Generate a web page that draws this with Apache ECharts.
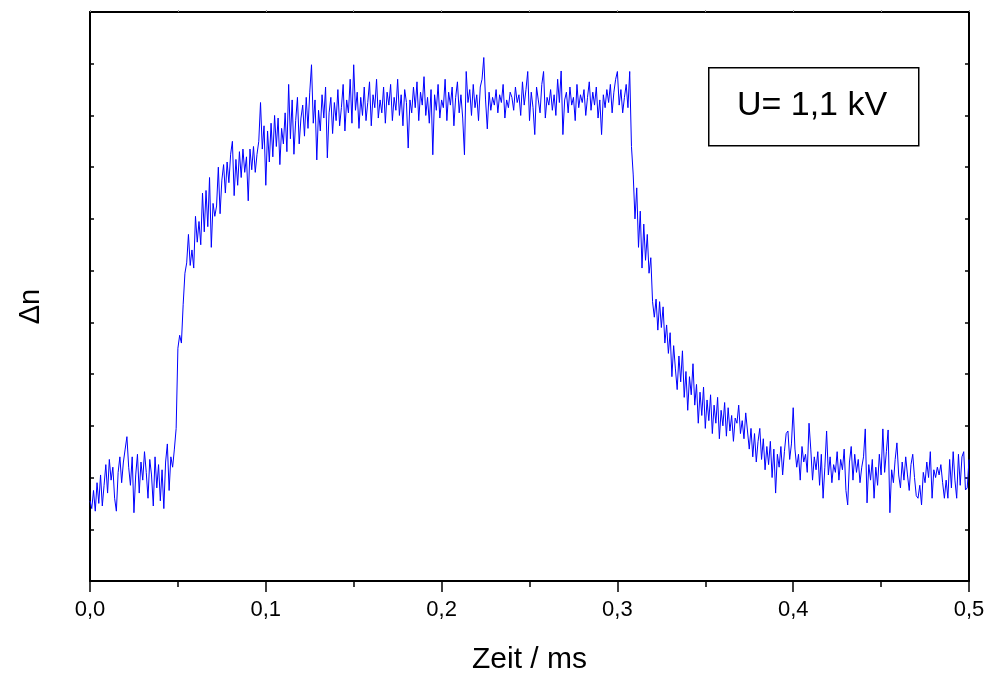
<!DOCTYPE html>
<html>
<head>
<meta charset="utf-8">
<script src="https://cdn.jsdelivr.net/npm/echarts@6/dist/echarts.min.js"></script>
<style>
html,body{margin:0;padding:0;background:#fff;}
#chart{width:988px;height:675px;}
</style>
</head>
<body>
<div id="chart"></div>
<script>
// Sampling step of the trace (ms)
const timeStep = 0.001;

// Δn values (arbitrary units, axis 0..11)
const baseline = [
  1.55, 1.40, 1.75, 1.35, 1.90, 1.50, 2.05, 1.45, 1.85, 2.25,
  1.70, 2.35, 1.95, 2.20, 1.60, 1.35, 2.10, 2.40, 1.90, 2.30,
  2.55, 2.79, 2.20, 1.85, 2.40, 1.32, 2.05, 2.45, 1.70, 2.30,
  1.95, 2.50, 2.10, 1.60, 2.35, 2.05, 1.45, 2.40, 1.80, 2.25,
  1.55, 2.15, 1.40, 2.30, 2.65, 1.75, 2.40, 2.20, 2.55
];
const rise = [
  2.95, 4.50, 4.75, 4.60, 5.35, 5.95, 6.15, 6.70, 6.10, 6.40, 6.05, 7.05,
  6.55, 6.95, 6.50, 7.50, 6.75, 7.55, 6.85, 7.80, 6.45, 7.30,
  7.05, 7.25, 8.00, 7.10, 7.75, 8.05, 7.50, 8.10, 7.70, 8.25,
  8.50, 7.45, 8.15, 7.65, 8.30, 7.80, 8.35, 7.90, 8.20, 7.35,
  8.35, 7.95, 8.40, 7.90, 8.25, 8.50, 9.25, 8.35, 8.80, 7.65,
  8.70, 8.10, 8.85, 8.20, 9.00, 8.40, 8.95, 8.05, 8.75, 8.45,
  9.05, 8.30, 9.60, 8.55, 9.30, 8.25, 8.90, 9.35, 8.45, 8.95
];
const plateau = [
  9.20, 8.60, 9.35, 8.75, 9.45, 9.98, 8.85, 9.30, 8.14, 9.10,
  8.70, 9.40, 8.95, 9.55, 8.18, 9.05, 9.35, 8.65, 9.25, 8.90,
  9.50, 8.80, 9.15, 9.60, 8.70, 9.30, 9.05, 9.70, 8.85, 9.98,
  9.10, 9.45, 8.75, 9.35, 9.00, 9.55, 8.90, 9.25, 9.65, 8.80,
  9.40, 9.15, 9.70, 8.95, 9.30, 9.05, 9.55, 8.85, 9.45, 9.20,
  9.60, 8.90, 9.35, 9.10, 9.70, 9.00, 9.40, 8.80, 9.50, 9.25,
  8.37, 9.30, 9.05, 9.55, 9.15, 9.65, 8.90, 9.45, 9.20, 9.75,
  9.00, 9.35, 8.85, 9.50, 8.24, 9.40, 9.10, 9.60, 8.95, 9.30,
  9.15, 9.70, 8.90, 9.45, 9.20, 9.55, 8.80, 9.35, 9.65, 9.05,
  9.40, 8.95, 8.24, 9.85, 9.25, 9.50, 9.00, 9.60, 9.15, 9.40,
  8.90, 9.55, 9.70, 10.12, 9.30, 8.74, 9.45, 9.10, 9.35, 9.20,
  9.50, 9.05, 9.40, 9.25, 9.60, 8.95, 9.30, 9.15, 9.45, 9.35,
  9.10, 9.55, 9.25, 9.40, 9.00, 9.65, 9.20, 9.50, 9.85, 8.90,
  9.45, 9.15, 8.63, 9.55, 9.30, 9.05, 9.60, 9.85, 8.95, 9.35,
  9.20, 9.50, 9.10, 9.40, 9.00, 9.70, 9.25, 9.86, 8.63, 9.30,
  9.45, 9.05, 9.55, 9.20, 9.35, 8.90, 9.60, 9.15, 9.40, 9.25,
  9.50, 9.00, 9.35, 9.65, 9.10, 9.45, 9.20, 9.55, 8.95, 9.30,
  8.63, 9.40, 9.15, 9.50, 9.25, 9.60, 9.05, 9.45, 9.70, 9.85,
  9.20, 9.50, 9.05, 9.35, 9.60, 9.15, 9.85, 8.40
];
const decay = [
  7.85, 7.00, 7.60, 6.45, 7.15, 6.05, 6.90, 6.20, 6.70, 5.95,
  6.25, 5.40, 5.10, 5.45, 4.85, 5.40, 4.90, 5.30, 4.60, 4.95,
  4.40, 4.80, 3.95, 4.55, 4.10, 3.70, 4.35, 3.85, 4.45, 3.55,
  4.05, 3.30, 3.95, 3.60, 4.20, 3.40, 3.80, 3.05, 3.65, 3.20,
  3.75, 2.95, 3.50, 3.10, 3.60, 2.85, 3.40, 3.05, 3.55, 2.75,
  3.30, 3.00, 3.45, 2.80, 3.35, 2.90, 3.20, 2.70, 3.15, 3.05,
  3.40, 2.85, 3.10, 2.75, 3.25, 2.90, 2.55, 2.95, 2.40, 2.85,
  2.30, 2.70, 2.95, 2.35, 2.75, 2.15, 2.60, 2.25, 2.70, 2.00,
  2.55, 1.70, 2.45, 2.20, 2.60, 2.05, 2.50, 2.85, 2.90, 2.35,
  2.65, 3.35, 2.55, 2.20, 2.45, 1.95, 2.60, 2.30, 2.45, 2.10,
  3.05, 2.55, 1.95, 2.40, 2.15, 2.50
];
const tail = [
  1.85, 2.45, 1.60, 2.20, 2.90, 2.05, 2.40, 1.90, 2.25, 2.10,
  2.50, 1.95, 2.35, 2.15, 2.55, 1.75, 1.47, 2.30, 2.60, 1.95,
  2.45, 2.10, 2.35, 1.90, 2.20, 2.40, 2.94, 1.51, 2.25, 1.95,
  2.35, 1.60, 2.20, 1.85, 2.45, 2.05, 2.94, 2.10, 2.50, 2.92,
  1.32, 2.15, 1.90, 2.35, 2.67, 2.05, 1.80, 2.30, 1.95, 2.40,
  2.05, 1.75, 2.25, 2.45, 2.00, 1.65, 1.60, 1.85, 1.47, 2.10,
  1.90, 2.30, 2.00, 2.50, 1.60, 2.15, 2.00, 2.20, 2.05, 2.25,
  1.90, 1.60, 1.95, 1.60, 2.35, 1.80, 2.50, 1.95, 1.60, 2.45,
  1.85, 2.40, 2.50, 1.76, 1.80, 2.35
];

// Axis ticks
const xTicks = [0, 0.1, 0.2, 0.3, 0.4, 0.5];
const legendText = 'U= 1,1 kV';
const xName = 'Zeit / ms';
const yName = '\u0394n';

const values = baseline.concat(rise, plateau, decay, tail);
const seriesData = values.map((v, i) => [i * timeStep, v]);

const chart = echarts.init(document.getElementById('chart'), null, {renderer: 'canvas'});
const font = 'Liberation Sans, Arial, sans-serif';
const axisLine = {show: true, onZero: false, lineStyle: {color: '#000', width: 2}};

chart.setOption({
  animation: false,
  backgroundColor: '#fff',
  grid: {left: 90, right: 19, top: 12, bottom: 94, containLabel: false, outerBoundsMode: 'none'},
  xAxis: [{
    type: 'value', position: 'bottom',
    min: xTicks[0], max: xTicks[xTicks.length - 1], interval: 0.1,
    axisLine: axisLine,
    axisTick: {show: true, inside: false, length: 11, lineStyle: {color: '#000', width: 1.5}},
    minorTick: {show: true, splitNumber: 2, length: 6, lineStyle: {color: '#000', width: 1.5}},
    splitLine: {show: false},
    axisLabel: {
      show: true, margin: 18, color: '#000', fontSize: 22, fontFamily: font,
      formatter: v => v.toFixed(1).replace('.', ',')
    },
    name: xName, nameLocation: 'middle', nameGap: 64,
    nameTextStyle: {color: '#000', fontSize: 30, fontFamily: font, verticalAlign: 'top'}
  }, {
    type: 'value', position: 'top',
    min: xTicks[0], max: xTicks[xTicks.length - 1], interval: 0.1,
    axisLine: axisLine,
    axisTick: {show: true, inside: false, length: 2, lineStyle: {color: '#999', width: 1}},
    minorTick: {show: true, splitNumber: 2, length: 2, lineStyle: {color: '#999', width: 1}},
    splitLine: {show: false},
    axisLabel: {show: false}
  }],
  yAxis: [{
    type: 'value', position: 'left',
    min: 0, max: 11, interval: 1,
    axisLine: axisLine,
    axisTick: {show: true, inside: true, length: 4, lineStyle: {color: '#000', width: 1.5}},
    splitLine: {show: false},
    axisLabel: {show: false},
    name: yName, nameLocation: 'middle', nameGap: 45, nameRotate: 90,
    nameTextStyle: {color: '#000', fontSize: 29, fontFamily: font, padding: [0, 20, 0, 0]}
  }, {
    type: 'value', position: 'right',
    min: 0, max: 11, interval: 1,
    axisLine: axisLine,
    axisTick: {show: true, inside: true, length: 4, lineStyle: {color: '#000', width: 1.5}},
    splitLine: {show: false},
    axisLabel: {show: false}
  }],
  series: [{
    type: 'line',
    xAxisIndex: 0, yAxisIndex: 0,
    data: seriesData,
    showSymbol: false,
    symbol: 'none',
    lineStyle: {color: '#0000ff', width: 1},
    itemStyle: {color: '#0000ff'}
  }],
  graphic: [{
    type: 'rect',
    left: 708, top: 67,
    shape: {width: 210, height: 78},
    style: {fill: '#fff', stroke: '#000', lineWidth: 1.5},
    z: 10
  }, {
    type: 'text',
    x: 812, y: 106,
    style: {
      text: legendText, fill: '#000', fontSize: 34, fontFamily: font,
      align: 'center', verticalAlign: 'middle'
    },
    z: 11
  }]
});
</script>
</body>
</html>
